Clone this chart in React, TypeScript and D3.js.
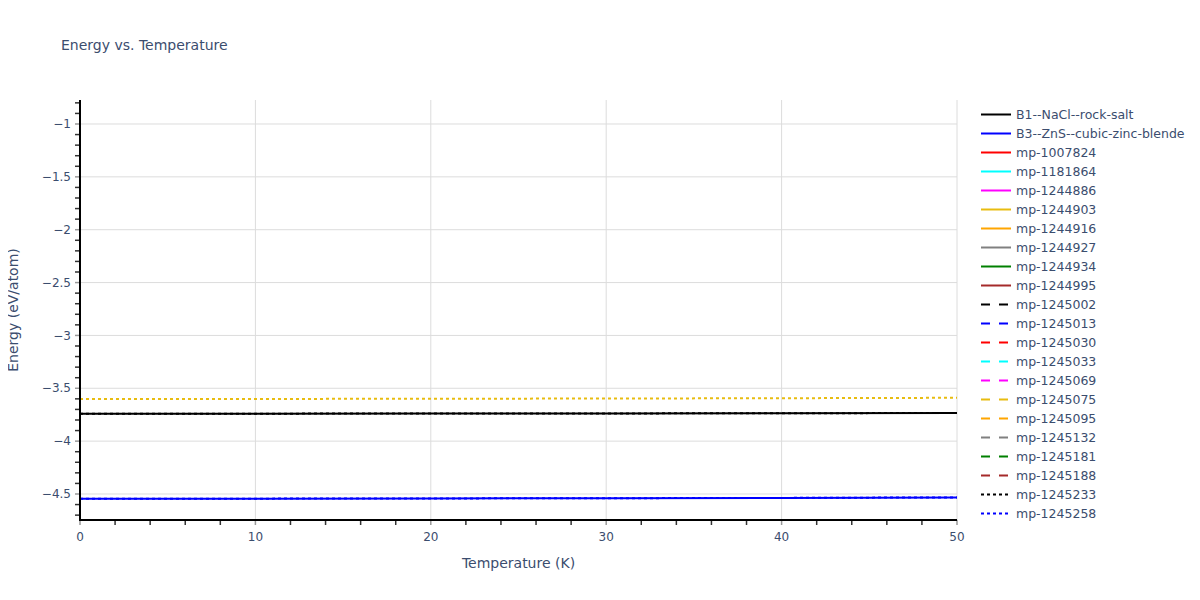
import React, { useEffect, useRef } from 'react';
import * as d3 from 'd3';

// Temperatures (K) at which energies were sampled
const temperatures = [0, 10, 20, 30, 40, 50];

// Energies (eV/atom)
const rockSalt = [-3.741, -3.740, -3.739, -3.738, -3.736, -3.734];
const zincBlende = [-4.545, -4.544, -4.542, -4.540, -4.537, -4.532];
const dottedGold = [-3.602, -3.601, -3.599, -3.597, -3.594, -3.590];

const seriesNames = [
  'B1--NaCl--rock-salt', 'B3--ZnS--cubic-zinc-blende',
  'mp-1007824', 'mp-1181864', 'mp-1244886', 'mp-1244903', 'mp-1244916',
  'mp-1244927', 'mp-1244934', 'mp-1244995', 'mp-1245002', 'mp-1245013',
  'mp-1245030', 'mp-1245033', 'mp-1245069', 'mp-1245075', 'mp-1245095',
  'mp-1245132', 'mp-1245181', 'mp-1245188', 'mp-1245233', 'mp-1245258',
  'mp-1245266',
];
const seriesColors = [
  'black', 'blue', 'red', 'cyan', 'magenta', '#E8BC10', 'orange', 'gray', 'green', 'brown',
  'black', 'blue', 'red', 'cyan', 'magenta', '#E8BC10', 'orange', 'gray', 'green', 'brown',
  'black', 'blue', '#E8BC10',
];
const seriesDashes = [
  'solid', 'solid', 'solid', 'solid', 'solid', 'solid', 'solid', 'solid', 'solid', 'solid',
  'dash', 'dash', 'dash', 'dash', 'dash', 'dash', 'dash', 'dash', 'dash', 'dash',
  'dot', 'dot', 'dot',
];
// only the traces that show a line in the picture carry values
const seriesValues: Record<string, number[]> = {
  'B1--NaCl--rock-salt': rockSalt,
  'B3--ZnS--cubic-zinc-blende': zincBlende,
  'mp-1245233': rockSalt,
  'mp-1245258': zincBlende,
  'mp-1245266': dottedGold,
};

const yTicks = [-1, -1.5, -2, -2.5, -3, -3.5, -4, -4.5];
const xTicks = [0, 10, 20, 30, 40, 50];

const dashArray = (d: string) => (d === 'dash' ? '9,9' : d === 'dot' ? '3,3' : null);

const App: React.FC = () => {
  const svgRef = useRef<SVGSVGElement>(null);

  useEffect(() => {
    if (!svgRef.current) return;
    const svg = d3.select(svgRef.current);
    svg.selectAll('*').remove();

    const left = 80, right = 957, top = 100, bottom = 520;
    const x = d3.scaleLinear().domain([0, 50]).range([left, right]);
    const y = d3.scaleLinear().domain([-4.746, -0.773]).range([bottom, top]);
    const font = '"DejaVu Sans", Verdana, sans-serif';
    const textColor = '#3b4d6e';

    svg.append('rect').attr('width', 1200).attr('height', 600).attr('fill', 'white');

    // grid
    svg.append('g').selectAll('line').data(xTicks.slice(1)).enter().append('line')
      .attr('x1', d => x(d)).attr('x2', d => x(d)).attr('y1', top).attr('y2', bottom)
      .attr('stroke', '#dcdcdc').attr('stroke-width', 1);
    svg.append('g').selectAll('line').data(yTicks).enter().append('line')
      .attr('x1', left).attr('x2', right).attr('y1', d => y(d)).attr('y2', d => y(d))
      .attr('stroke', '#dcdcdc').attr('stroke-width', 1);

    // lines
    const line = d3.line<number>().x((_, i) => x(temperatures[i])).y(d => y(d));
    const clip = svg.append('clipPath').attr('id', 'plotclip');
    clip.append('rect').attr('x', left).attr('y', top).attr('width', right - left).attr('height', bottom - top);
    const plot = svg.append('g').attr('clip-path', 'url(#plotclip)');
    seriesNames.forEach((name, i) => {
      const vals = seriesValues[name];
      if (!vals) return;
      plot.append('path').datum(vals).attr('d', line)
        .attr('fill', 'none').attr('stroke', seriesColors[i]).attr('stroke-width', 2)
        .attr('stroke-dasharray', dashArray(seriesDashes[i]));
    });

    // axes
    const xMinor = d3.range(0, 50.01, 2);
    const yMinor = d3.range(-4.7, -0.79, 0.1);
    const ax = svg.append('g');
    ax.selectAll('.xm').data(xMinor).enter().append('line')
      .attr('x1', d => x(d)).attr('x2', d => x(d)).attr('y1', bottom).attr('y2', bottom + 5)
      .attr('stroke', d => Math.abs(d % 10) < 1e-6 ? '#999' : '#333').attr('stroke-width', 1.5);
    ax.selectAll('.ym').data(yMinor).enter().append('line')
      .attr('x1', left - 5).attr('x2', left).attr('y1', d => y(d)).attr('y2', d => y(d))
      .attr('stroke', d => yTicks.some(t => Math.abs(t - d) < 1e-6) ? '#999' : '#333').attr('stroke-width', 1.5);
    ax.append('line').attr('x1', left).attr('x2', left).attr('y1', top).attr('y2', bottom + 1)
      .attr('stroke', 'black').attr('stroke-width', 2);
    ax.append('line').attr('x1', left - 1).attr('x2', right).attr('y1', bottom).attr('y2', bottom)
      .attr('stroke', 'black').attr('stroke-width', 2);

    const minus = (v: number) => (v < 0 ? '\u2212' + String(Math.abs(v)) : String(v));
    ax.selectAll('.yl').data(yTicks).enter().append('text')
      .attr('x', left - 9).attr('y', d => y(d)).attr('dy', '0.35em').attr('text-anchor', 'end')
      .attr('font-family', font).attr('font-size', 12).attr('fill', textColor).text(d => minus(d));
    ax.selectAll('.xl').data(xTicks).enter().append('text')
      .attr('x', d => x(d)).attr('y', bottom + 21).attr('text-anchor', 'middle')
      .attr('font-family', font).attr('font-size', 12).attr('fill', textColor).text(d => String(d));

    svg.append('text').attr('x', (left + right) / 2).attr('y', 568).attr('text-anchor', 'middle')
      .attr('font-family', font).attr('font-size', 14).attr('fill', textColor).text('Temperature (K)');
    svg.append('text').attr('transform', `translate(18,${(top + bottom) / 2}) rotate(-90)`)
      .attr('text-anchor', 'middle').attr('font-family', font).attr('font-size', 14).attr('fill', textColor)
      .text('Energy (eV/atom)');
    svg.append('text').attr('x', 61).attr('y', 50).attr('font-family', font).attr('font-size', 14)
      .attr('fill', textColor).text('Energy vs. Temperature');

    // legend (overflows and is clipped like the original)
    const lclip = svg.append('clipPath').attr('id', 'legclip');
    lclip.append('rect').attr('x', 970).attr('y', 100).attr('width', 230).attr('height', 424);
    const leg = svg.append('g').attr('clip-path', 'url(#legclip)');
    seriesNames.forEach((name, i) => {
      const ly = 114.5 + i * 19;
      leg.append('line').attr('x1', 981).attr('x2', 1011).attr('y1', ly).attr('y2', ly)
        .attr('stroke', seriesColors[i]).attr('stroke-width', 2)
        .attr('stroke-dasharray', dashArray(seriesDashes[i]));
      leg.append('text').attr('x', 1016).attr('y', ly).attr('dy', '0.35em')
        .attr('font-family', font).attr('font-size', 12.5).attr('fill', textColor).text(name);
    });
  }, []);

  return <svg ref={svgRef} width={1200} height={600} style={{ display: 'block', margin: -8 }} />;
};

export default App;
